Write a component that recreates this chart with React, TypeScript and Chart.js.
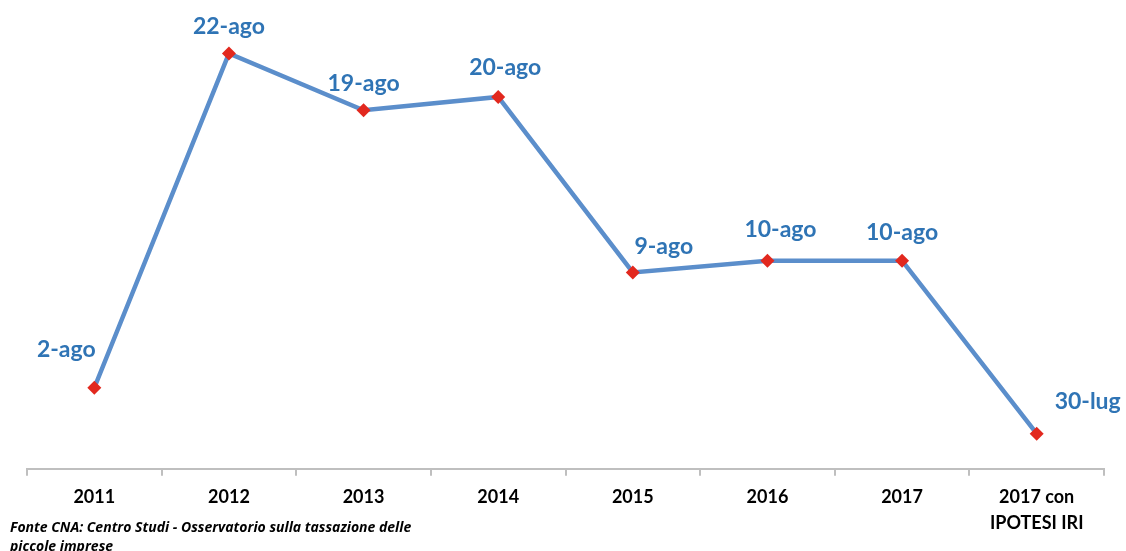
import React, { useEffect, useRef } from "react";
import { Chart, registerables } from "chart.js";

Chart.register(...registerables);

// Categories
const categories: (string | string[])[] = ["2011", "2012", "2013", "2014", "2015", "2016", "2017", ["2017 con", "IPOTESI IRI"]];
// Day of year (fractional where the marker sits between days)
const dayValues: number[] = [214, 234, 230.6, 231.4, 220.9, 221.6, 221.6, 211.25];
// Point labels
const pointLabels: string[] = ["2-ago", "22-ago", "19-ago", "20-ago", "9-ago", "10-ago", "10-ago", "30-lug"];
// Label offsets relative to the point (styling only)
const labelOffsets: [number, number][] = [
  [-28, -38], [0, -27], [0, -27], [7, -29], [31, -26], [13, -31], [0, -28], [51, -32],
];

const sourceNote = "Fonte CNA: Centro Studi - Osservatorio sulla tassazione delle piccole imprese";

const labelPlugin = {
  id: "pointLabels",
  afterDatasetsDraw(chart: any) {
    const ctx = chart.ctx;
    const meta = chart.getDatasetMeta(0);
    ctx.save();
    ctx.font = "bold 23px Lato";
    ctx.fillStyle = "#2F74B5";
    ctx.textAlign = "center";
    ctx.textBaseline = "middle";
    meta.data.forEach((el: any, i: number) => {
      const [dx, dy] = labelOffsets[i];
      ctx.fillText(pointLabels[i], el.x + dx, el.y + dy);
    });
    ctx.restore();
  },
};

export default function App() {
  const ref = useRef<HTMLCanvasElement>(null);
  useEffect(() => {
    if (!ref.current) return;
    const chart = new Chart(ref.current, {
      type: "line",
      data: {
        labels: categories,
        datasets: [
          {
            data: dayValues,
            borderColor: "#5B8ECB",
            borderWidth: 4.5,
            pointStyle: "rectRot",
            pointRadius: 7,
            pointBackgroundColor: "#E2281E",
            pointBorderColor: "#E2281E",
            pointBorderWidth: 0,
            tension: 0,
          },
        ],
      },
      options: {
        animation: false,
        responsive: false,
        maintainAspectRatio: false,
        layout: { padding: { left: 27, right: 22, top: 0, bottom: 7 } },
        plugins: { legend: { display: false }, tooltip: { enabled: false } },
        scales: {
          x: {
            offset: true,
            grid: {
              offset: true,
              drawOnChartArea: false,
              drawTicks: true,
              tickLength: 7,
              color: "#BFBFBF",
              lineWidth: 2,
            },
            border: { color: "#BFBFBF", width: 2 },
            ticks: {
              color: "#000000",
              font: { family: "Lato", weight: "bold", size: 18, lineHeight: 1.45 },
              padding: 8,
              maxRotation: 0,
              autoSkip: false,
            },
          },
          y: {
            display: false,
            min: 209.15,
            max: 236.78,
          },
        },
      },
      plugins: [labelPlugin],
    });
    return () => chart.destroy();
  }, []);
  return (
    <div style={{ position: "absolute", left: 0, top: 0, width: 1126, height: 551, background: "#fff", overflow: "hidden" }}>
      <canvas ref={ref} width={1126} height={551} style={{ display: "block" }} />
      <div
        style={{
          position: "absolute",
          left: 10,
          top: 517,
          width: 420,
          fontFamily: "'Open Sans'",
          fontStyle: "italic",
          fontWeight: "bold",
          fontSize: 14,
          lineHeight: "19px",
          color: "#000",
        }}
      >
        {sourceNote}
      </div>
    </div>
  );
}
